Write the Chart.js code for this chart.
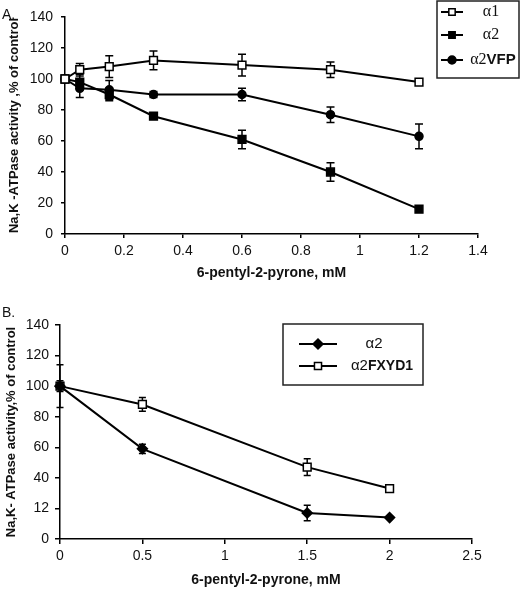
<!DOCTYPE html>
<html>
<head>
<meta charset="utf-8">
<script src="https://cdn.jsdelivr.net/npm/chart.js@4/dist/chart.umd.min.js"></script>
<style>
  body { margin: 0; background: #fff; }
  canvas { position: absolute; left: 0; }
  #chartA { top: 0; }
  #chartB { top: 295px; }
  .panel { position: absolute; left: 2px; font: 14px "Liberation Sans", Arial, sans-serif; color: #111; }
</style>
</head>
<body>
<canvas id="chartA" width="520" height="290"></canvas>
<canvas id="chartB" width="520" height="294"></canvas>
<div class="panel" style="top:6px">A.</div>
<div class="panel" style="top:304px">B.</div>
<script>
// panel A
const doseA = [0, 0.05, 0.15, 0.3, 0.6, 0.9, 1.2];
const alpha1 = [100, 106, 108, 112, 109, 106, 98];
const alpha1Err = [0, 4, 7, 6, 7, 5, 0];
const alpha2 = [100, 98, 90, 76, 61, 40, 16];
const alpha2Err = [0, 5, 4, 2, 6, 6, 0];
const alpha2VFP = [100, 94, 93, 90, 90, 77, 63];
const alpha2VFPErr = [0, 6, 6, 2, 4, 5, 8];
const xTicksA = ['0', '0.2', '0.4', '0.6', '0.8', '1', '1.2', '1.4'];
const yTicksA = ['0', '20', '40', '60', '80', '100', '120', '140'];

// panel B
const doseB = [0, 0.5, 1.5, 2];
const alpha2B = [100, 59, 17, 14];
const alpha2BErr = [3.5, 3, 5, 0];
const alpha2FXYD1 = [100, 88, 47, 33];
const alpha2FXYD1Err = [14, 4.5, 5.5, 0];
const xTicksB = ['0', '0.5', '1', '1.5', '2', '2.5'];
const yTicksB = ['0', '12', '40', '60', '80', '100', '120', '140'];

const SANS = '"Liberation Sans", Arial, sans-serif';
const SERIF = '"Liberation Serif", "Times New Roman", serif';

function points(xs, ys) {
    return xs.map((x, i) => ({ x: x, y: ys[i] }));
}

// vertical error bars, drawn under the markers
const errorBars = {
    id: 'errorBars',
    beforeDatasetsDraw(chart, args, opts) {
        const ctx = chart.ctx;
        const xs = chart.scales.x, ys = chart.scales.y;
        const cap = opts.cap || 4;
        ctx.save();
        ctx.strokeStyle = '#000';
        ctx.lineWidth = 1.5;
        chart.data.datasets.forEach(ds => {
            if (!ds.errors) return;
            ds.data.forEach((p, i) => {
                const e = ds.errors[i];
                if (!e) return;
                const px = xs.getPixelForValue(p.x);
                const top = ys.getPixelForValue(p.y + e);
                const bot = ys.getPixelForValue(p.y - e);
                ctx.beginPath();
                ctx.moveTo(px, top); ctx.lineTo(px, bot);
                ctx.moveTo(px - cap, top); ctx.lineTo(px + cap, top);
                ctx.moveTo(px - cap, bot); ctx.lineTo(px + cap, bot);
                ctx.stroke();
            });
        });
        ctx.restore();
    }
};

function marker(ctx, style, x, y, r) {
    ctx.beginPath();
    if (style === 'circle') {
        ctx.arc(x, y, r, 0, Math.PI * 2);
    } else if (style === 'rectRot') {
        ctx.moveTo(x - r, y); ctx.lineTo(x, y - r); ctx.lineTo(x + r, y); ctx.lineTo(x, y + r);
        ctx.closePath();
    } else {
        const s = r * Math.SQRT1_2;
        ctx.rect(x - s, y - s, 2 * s, 2 * s);
    }
    ctx.fill();
    ctx.stroke();
}

// boxed legend like the original figure
const boxLegend = {
    id: 'boxLegend',
    afterDraw(chart, args, opts) {
        const ctx = chart.ctx;
        const [x0, y0, x1, y1] = opts.box;
        ctx.save();
        ctx.fillStyle = '#fff';
        ctx.fillRect(x0, y0, x1 - x0, y1 - y0);
        ctx.strokeStyle = '#222';
        ctx.lineWidth = 1.5;
        ctx.strokeRect(x0, y0, x1 - x0, y1 - y0);
        chart.data.datasets.forEach((ds, i) => {
            const y = opts.rows[i];
            ctx.beginPath();
            ctx.moveTo(opts.line[0], y);
            ctx.lineTo(opts.line[1], y);
            ctx.strokeStyle = '#000';
            ctx.lineWidth = 2;
            ctx.stroke();
            ctx.fillStyle = ds.pointBackgroundColor;
            ctx.lineWidth = 1.5;
            marker(ctx, ds.pointStyle, (opts.line[0] + opts.line[1]) / 2, y, opts.markerRadius[i]);

            const m = ds.label.match(/^(α\d)(.*)$/);
            const head = m ? m[1] : ds.label;
            const tail = m ? m[2] : '';
            ctx.font = opts.headFont;
            const w1 = ctx.measureText(head).width;
            ctx.font = opts.tailFont;
            const w2 = ctx.measureText(tail).width;
            let tx = opts.textX[i] - (w1 + w2) / 2;
            ctx.fillStyle = '#111';
            ctx.textBaseline = 'middle';
            ctx.textAlign = 'left';
            ctx.font = opts.headFont;
            ctx.fillText(head, tx, y);
            ctx.font = opts.tailFont;
            ctx.fillText(tail, tx + w1, y);
        });
        ctx.restore();
    }
};

function axisStyle(tickLen) {
    return {
        grid: { display: true, drawOnChartArea: false, drawTicks: true, tickLength: tickLen, color: '#000', lineWidth: 1.5 },
        border: { display: true, color: '#000', width: 1.5 }
    };
}

// panel A
new Chart(document.getElementById('chartA'), {
    type: 'line',
    data: {
        datasets: [{
            label: 'α1',
            data: points(doseA, alpha1),
            errors: alpha1Err,
            borderColor: '#000',
            borderWidth: 2,
            pointStyle: 'rect',
            pointRadius: 5.5,
            pointBackgroundColor: '#fff',
            pointBorderColor: '#000',
            pointBorderWidth: 1.5,
            clip: false
        }, {
            label: 'α2',
            data: points(doseA, alpha2),
            errors: alpha2Err,
            borderColor: '#000',
            borderWidth: 2,
            pointStyle: 'rect',
            pointRadius: 5.5,
            pointBackgroundColor: '#000',
            pointBorderColor: '#000',
            pointBorderWidth: 1.5,
            clip: false
        }, {
            label: 'α2VFP',
            data: points(doseA, alpha2VFP),
            errors: alpha2VFPErr,
            borderColor: '#000',
            borderWidth: 2,
            pointStyle: 'circle',
            pointRadius: 4,
            pointBackgroundColor: '#000',
            pointBorderColor: '#000',
            pointBorderWidth: 1.5,
            clip: false
        }]
    },
    options: {
        responsive: false,
        animation: false,
        devicePixelRatio: 1,
        layout: { padding: { top: 17, right: 42, left: 0, bottom: 0 } },
        plugins: {
            legend: { display: false },
            tooltip: { enabled: false },
            errorBars: { cap: 4 },
            boxLegend: {
                box: [437, 1, 519, 78],
                rows: [12, 35, 60],
                line: [441, 463],
                markerRadius: [4.5, 4.5, 4],
                textX: [491, 491, 493],
                headFont: '16px ' + SERIF,
                tailFont: 'bold 15px ' + SANS
            }
        },
        scales: {
            x: {
                type: 'linear',
                min: 0,
                max: 1.4,
                ...axisStyle(4),
                afterFit: s => { s.height = 56; },
                ticks: {
                    stepSize: 0.2,
                    autoSkip: false,
                    maxRotation: 0,
                    padding: 5,
                    color: '#111',
                    font: { family: SANS, size: 14 },
                    callback: (v, i) => xTicksA[i]
                },
                title: {
                    display: true,
                    text: '6-pentyl-2-pyrone, mM',
                    color: '#111',
                    font: { family: SANS, size: 14, weight: 'bold' },
                    padding: { top: 0, bottom: 8 }
                }
            },
            y: {
                min: 0,
                max: 140,
                ...axisStyle(4),
                afterFit: s => { s.width = 65; },
                ticks: {
                    stepSize: 20,
                    padding: 8,
                    color: '#111',
                    font: { family: SANS, size: 14 },
                    callback: (v, i) => yTicksA[i]
                },
                title: {
                    display: true,
                    text: 'Na,K -ATPase activity ,% of control',
                    color: '#111',
                    font: { family: SANS, size: 13, weight: 'bold' },
                    padding: { top: 7, bottom: 0 }
                }
            }
        }
    },
    plugins: [errorBars, boxLegend]
});

// panel B
new Chart(document.getElementById('chartB'), {
    type: 'line',
    data: {
        datasets: [{
            label: 'α2',
            data: points(doseB, alpha2B),
            errors: alpha2BErr,
            borderColor: '#000',
            borderWidth: 2,
            pointStyle: 'rectRot',
            pointRadius: 5,
            pointBackgroundColor: '#000',
            pointBorderColor: '#000',
            pointBorderWidth: 1.5,
            clip: false
        }, {
            label: 'α2FXYD1',
            data: points(doseB, alpha2FXYD1),
            errors: alpha2FXYD1Err,
            borderColor: '#000',
            borderWidth: 2,
            pointStyle: 'rect',
            pointRadius: 5.5,
            pointBackgroundColor: '#fff',
            pointBorderColor: '#000',
            pointBorderWidth: 1.5,
            clip: false
        }]
    },
    options: {
        responsive: false,
        animation: false,
        devicePixelRatio: 1,
        layout: { padding: { top: 30, right: 48, left: 0, bottom: 0 } },
        plugins: {
            legend: { display: false },
            tooltip: { enabled: false },
            errorBars: { cap: 3.5 },
            boxLegend: {
                box: [283, 29, 423, 90],
                rows: [49, 71],
                line: [299, 337],
                markerRadius: [5, 5],
                textX: [374, 382],
                headFont: '15px ' + SANS,
                tailFont: 'bold 14px ' + SANS
            }
        },
        scales: {
            x: {
                type: 'linear',
                min: 0,
                max: 2.5,
                ...axisStyle(5),
                afterFit: s => { s.height = 50; },
                ticks: {
                    stepSize: 0.5,
                    autoSkip: false,
                    maxRotation: 0,
                    padding: 4,
                    color: '#111',
                    font: { family: SANS, size: 14 },
                    callback: (v, i) => xTicksB[i]
                },
                title: {
                    display: true,
                    text: '6-pentyl-2-pyrone, mM',
                    color: '#111',
                    font: { family: SANS, size: 14, weight: 'bold' },
                    padding: { top: 0, bottom: 0 }
                }
            },
            y: {
                min: 0,
                max: 140,
                ...axisStyle(5),
                afterFit: s => { s.width = 60; },
                ticks: {
                    stepSize: 20,
                    padding: 6,
                    color: '#111',
                    font: { family: SANS, size: 14 },
                    callback: (v, i) => yTicksB[i]
                },
                title: {
                    display: true,
                    text: 'Na,K- ATPase activity,% of control',
                    color: '#111',
                    font: { family: SANS, size: 13, weight: 'bold' },
                    padding: { top: 4, bottom: 0 }
                }
            }
        }
    },
    plugins: [errorBars, boxLegend]
});
</script>
</body>
</html>
